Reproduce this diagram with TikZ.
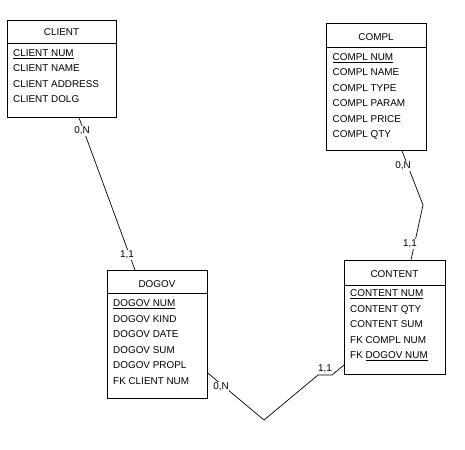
\documentclass[tikz,border=0pt]{standalone}
\usepackage{fontspec}
\setmainfont{Liberation Sans}
\usetikzlibrary{calc}
\begin{document}
\begin{tikzpicture}[x=1pt,y=-1pt,
  every node/.style={font=\fontsize{9.9}{11}\selectfont},
  ent/.style={draw, line width=0.8pt, inner sep=0, anchor=north west},
  ttl/.style={anchor=base, inner sep=0},
  attr/.style={anchor=base west, inner sep=0},
  card/.style={fill=white, inner sep=0.6pt},
  conn/.style={line width=0.7pt},
  hline/.style={line width=0.8pt}]
\useasboundingbox[fill=white] (0,0) rectangle (465,449);

% CLIENT
\node[ent, minimum width=109pt, minimum height=97pt] (client) at (7,20) {};
\draw[hline] (client.west |- 0,43) -- (client.east |- 0,43);
\node[ttl] (clientT) at (61.5,35.7) {CLIENT};
\node[attr] (cl1) at (13,56.5) {\underline{CLIENT NUM}};
\node[attr] (cl2) at (13,72) {CLIENT NAME};
\node[attr] (cl3) at (13,87.5) {CLIENT ADDRESS};
\node[attr] (cl4) at (13,103) {CLIENT DOLG};

% COMPL
\node[ent, minimum width=100pt, minimum height=127pt] (compl) at (326,23) {};
\draw[hline] (compl.west |- 0,47) -- (compl.east |- 0,47);
\node[ttl] (complT) at (376,40.5) {COMPL};
\node[attr] (co1) at (332.5,60.5) {\underline{COMPL NUM}};
\node[attr] (co2) at (332.5,76) {COMPL NAME};
\node[attr] (co3) at (332.5,91.5) {COMPL TYPE};
\node[attr] (co4) at (332.5,107) {COMPL PARAM};
\node[attr] (co5) at (332.5,122.5) {COMPL PRICE};
\node[attr] (co6) at (332.5,138) {COMPL QTY};

% DOGOV
\node[ent, minimum width=100pt, minimum height=128pt] (dogov) at (107,270) {};
\draw[hline] (dogov.west |- 0,293) -- (dogov.east |- 0,293);
\node[ttl] (dogovT) at (157,287) {DOGOV};
\node[attr] (d1) at (113,306.5) {\underline{DOGOV NUM}};
\node[attr] (d2) at (113,322) {DOGOV KIND};
\node[attr] (d3) at (113,337.5) {DOGOV DATE};
\node[attr] (d4) at (113,353) {DOGOV SUM};
\node[attr] (d5) at (113,368.5) {DOGOV PROPL};
\node[attr] (d6) at (113,384) {FK CLIENT NUM};

% CONTENT
\node[ent, minimum width=101pt, minimum height=114pt] (content) at (344,260) {};
\draw[hline] (content.west |- 0,285) -- (content.east |- 0,285);
\node[ttl] (contentT) at (394.5,277) {CONTENT};
\node[attr] (n1) at (350,296.5) {\underline{CONTENT NUM}};
\node[attr] (n2) at (350,312) {CONTENT QTY};
\node[attr] (n3) at (350,327.5) {CONTENT SUM};
\node[attr] (n4) at (350,343) {FK COMPL NUM};
\node[attr] (n5) at (350,358.5) {FK \underline{DOGOV NUM}};

% connector end points on box edges
\coordinate (a1) at (client.south -| 79,0);
\coordinate (a2) at (dogov.north -| 135,0);
\coordinate (b1) at (compl.south -| 402,0);
\coordinate (b2) at (423,205);
\coordinate (b3) at (content.north -| 411,0);
\coordinate (c1) at (dogov.east |- 0,373);
\coordinate (c2) at (264,420);
\coordinate (c3) at (318,375);
\coordinate (c4) at (332,375);
\coordinate (c5) at (content.west |- 0,365);

\draw[conn] (a1) -- (a2);
\draw[conn] (b1) -- (b2) -- (b3);
\draw[conn] (c1) -- (c2) -- (c3) -- (c4) -- (c5);

\node[card] (l1) at (82,131) {0,N};
\node[card] (l2) at (127,255) {1,1};
\node[card] (l3) at (403,166) {0,N};
\node[card] (l4) at (410,244) {1,1};
\node[card] (l5) at (221,387) {0,N};
\node[inner sep=0] (l6) at (325,369) {1,1};
\end{tikzpicture}
\end{document}
